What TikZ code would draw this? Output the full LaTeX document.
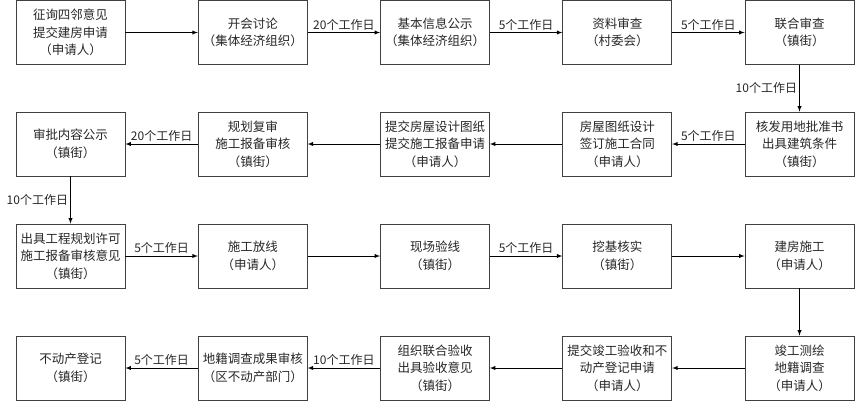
\documentclass[tikz,border=0pt]{standalone}
\usepackage{fontspec}
\newfontfamily\cjk{Noto Sans CJK SC}
\usepackage[dvipsnames]{xcolor}
\usetikzlibrary{arrows}

\begin{document}
\begin{tikzpicture}[x=1pt,y=-1pt]
        \tikzset{box/.style = {shape=rectangle,draw=black!75,line width=0.8pt,minimum width=109pt,minimum height=64pt,inner sep=1pt,align=center,text=black!85,font=\cjk\fontsize{12.5}{17.5}\selectfont},
                 flow/.style = {-latex,line width=0.9pt},
                 days/.style = {font=\cjk\fontsize{12}{14}\selectfont,text=black!85,inner sep=2pt}}
        \useasboundingbox (0,0) rectangle (855,402);
        % row 1
        \node[box] (1) at (70.5,32.5) {征询四邻意见\\提交建房申请\\（申请人）};
        \node[box] (2) at (252.75,32.5) {开会讨论\\（集体经济组织）};
        \node[box] (3) at (435,32.5) {基本信息公示\\（集体经济组织）};
        \node[box] (4) at (617.25,32.5) {资料审查\\（村委会）};
        \node[box] (5) at (799.5,32.5) {联合审查\\（镇街）};
        % row 2
        \node[box] (6) at (799.5,144) {核发用地批准书\\出具建筑条件\\（镇街）};
        \node[box] (7) at (617.25,144) {房屋图纸设计\\签订施工合同\\（申请人）};
        \node[box] (8) at (435,144) {提交房屋设计图纸\\提交施工报备申请\\（申请人）};
        \node[box] (9) at (252.75,144) {规划复审\\施工报备审核\\（镇街）};
        \node[box] (10) at (70.5,144) {审批内容公示\\（镇街）};
        % row 3
        \node[box] (11) at (70.5,256) {出具工程规划许可\\施工报备审核意见\\（镇街）};
        \node[box] (12) at (252.75,256) {施工放线\\（申请人）};
        \node[box] (13) at (435,256) {现场验线\\（镇街）};
        \node[box] (14) at (617.25,256) {挖基核实\\（镇街）};
        \node[box] (15) at (799.5,256) {建房施工\\（申请人）};
        % row 4
        \node[box] (16) at (799.5,368) {竣工测绘\\地籍调查\\（申请人）};
        \node[box] (17) at (617.25,368) {提交竣工验收和不\\动产登记申请\\（申请人）};
        \node[box] (18) at (435,368) {组织联合验收\\出具验收意见\\（镇街）};
        \node[box] (19) at (252.75,368) {地籍调查成果审核\\（区不动产部门）};
        \node[box] (20) at (70.5,368) {不动产登记\\（镇街）};
        % edges
        \draw[flow] (1) -- (2);
        \draw[flow] (2) -- node[days,above] {20个工作日} (3);
        \draw[flow] (3) -- node[days,above] {5个工作日} (4);
        \draw[flow] (4) -- node[days,above] {5个工作日} (5);
        \draw[flow] (5) -- node[days,left] {10个工作日} (6);
        \draw[flow] (6) -- node[days,above] {5个工作日} (7);
        \draw[flow] (7) -- (8);
        \draw[flow] (8) -- (9);
        \draw[flow] (9) -- node[days,above] {20个工作日} (10);
        \draw[flow] (10) -- node[days,left] {10个工作日} (11);
        \draw[flow] (11) -- node[days,above] {5个工作日} (12);
        \draw[flow] (12) -- (13);
        \draw[flow] (13) -- node[days,above] {5个工作日} (14);
        \draw[flow] (14) -- (15);
        \draw[flow] (15) -- (16);
        \draw[flow] (16) -- (17);
        \draw[flow] (17) -- (18);
        \draw[flow] (18) -- node[days,above] {10个工作日} (19);
        \draw[flow] (19) -- node[days,above] {5个工作日} (20);
\end{tikzpicture}
\end{document}
